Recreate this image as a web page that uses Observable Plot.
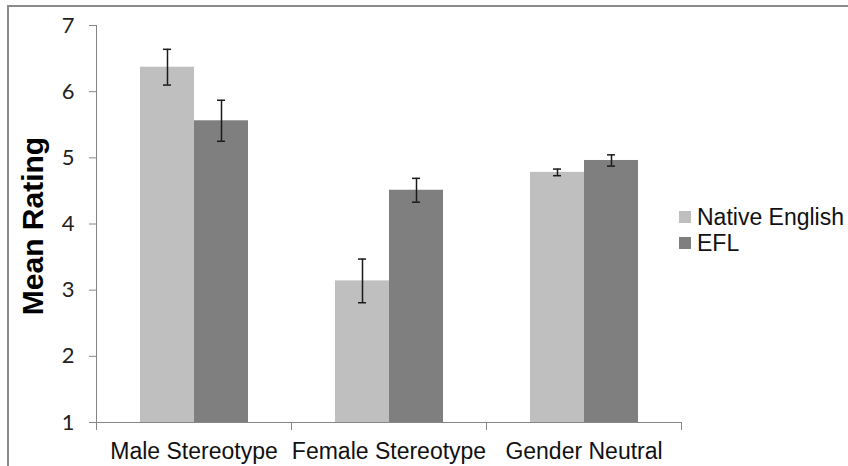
<!DOCTYPE html>
<html>
<head>
<meta charset="utf-8">
<script src="https://cdn.jsdelivr.net/npm/d3@7"></script>
<script src="https://cdn.jsdelivr.net/npm/@observablehq/plot@0.6"></script>
<style>
  html, body { margin: 0; padding: 0; background: #fff; }
  #wrap { position: relative; width: 848px; height: 466px; overflow: hidden; }
  #frame { position: absolute; left: 7px; top: 5px; width: 900px; height: 500px;
           border-left: 2px solid #8a8a8a; border-top: 2px solid #8a8a8a; }
  #chart { position: absolute; left: 0; top: 0; }
  #legend { position: absolute; left: 679px; top: 204px; font-family: "Liberation Sans", Arial, sans-serif;
            font-size: 23px; color: #111; }
  .item { display: flex; align-items: center; height: 26px; }
  .sw { width: 12px; height: 12px; margin-right: 6px; }
</style>
</head>
<body>
<div id="wrap">
  <div id="frame"></div>
  <div id="chart"></div>
  <div id="legend"></div>
</div>
<script>
const categories = ["Male Stereotype", "Female Stereotype", "Gender Neutral"];
const series = ["Native English", "EFL"];
const seriesColors = ["#bfbfbf", "#7f7f7f"];
const nativeMeans = [6.37, 3.14, 4.78];
const nativeErr = [0.27, 0.33, 0.05];
const eflMeans = [5.56, 4.51, 4.96];
const eflErr = [0.31, 0.18, 0.085];
const yTicks = [1, 2, 3, 4, 5, 6, 7];
const yTitle = "Mean Rating";

const rows = [];
categories.forEach((c, i) => {
  rows.push({category: c, series: series[0], value: nativeMeans[i], err: nativeErr[i]});
  rows.push({category: c, series: series[1], value: eflMeans[i], err: eflErr[i]});
});

const axisGrey = "#868686";
const errColor = "#1a1a1a";
const plotTop = 25, plotBottom = 44;
const H = 466;
const innerH = H - plotTop - plotBottom;

const chart = Plot.plot({
  width: 848,
  height: H,
  marginLeft: 96,
  marginRight: 167,
  marginTop: plotTop,
  marginBottom: plotBottom,
  style: {background: "transparent", overflow: "visible"},
  fx: {domain: categories, padding: 0, axis: null},
  x: {domain: series, paddingInner: 0, paddingOuter: 0.773, axis: null},
  y: {domain: [1, 7], axis: null},
  color: {domain: series, range: seriesColors},
  marks: [
    Plot.barY(rows, {fx: "category", x: "series", y1: 1, y2: "value", fill: "series"}),
    Plot.ruleX(rows, {fx: "category", x: "series", y1: d => d.value - d.err, y2: d => d.value + d.err,
      stroke: errColor, strokeWidth: 1.5}),
    Plot.tickY(rows, {fx: "category", x: "series", y: d => d.value + d.err, insetLeft: 23, insetRight: 23,
      stroke: errColor, strokeWidth: 1.5}),
    Plot.tickY(rows, {fx: "category", x: "series", y: d => d.value - d.err, insetLeft: 23, insetRight: 23,
      stroke: errColor, strokeWidth: 1.5}),
    // x axis line
    Plot.frame({anchor: "bottom", stroke: axisGrey}),
    // category boundary ticks
    Plot.frame({anchor: "left", stroke: axisGrey, insetTop: innerH, insetBottom: -7}),
    Plot.frame({anchor: "right", stroke: axisGrey, insetTop: innerH, insetBottom: -7, facetAnchor: "right"}),
    // y axis line
    Plot.frame({anchor: "left", stroke: axisGrey, facetAnchor: "left"}),
    Plot.axisY({ticks: yTicks, tickSize: 7, tickPadding: 15, stroke: axisGrey, fill: "#222",
      fontSize: 22, fontFamily: "Lato, 'Open Sans', sans-serif", tickFormat: d => String(d), label: null}),
    Plot.axisFx({anchor: "bottom", tickSize: 0, tickPadding: 20, fill: "#111",
      fontSize: 23, fontFamily: "'Liberation Sans', Arial, sans-serif", label: null}),
    Plot.text([yTitle], {frameAnchor: "left", facetAnchor: "left", rotate: -90, dx: -63, dy: 2,
      textAnchor: "middle", fontSize: 30, fontWeight: "bold",
      fontFamily: "'Liberation Sans', Arial, sans-serif", fill: "#000"})
  ]
});
document.getElementById("chart").appendChild(chart);

const legend = document.getElementById("legend");
series.forEach((s, i) => {
  const item = document.createElement("div");
  item.className = "item";
  const sw = document.createElement("span");
  sw.className = "sw";
  sw.style.background = seriesColors[i];
  const label = document.createElement("span");
  label.textContent = s;
  item.appendChild(sw);
  item.appendChild(label);
  legend.appendChild(item);
});
</script>
</body>
</html>
